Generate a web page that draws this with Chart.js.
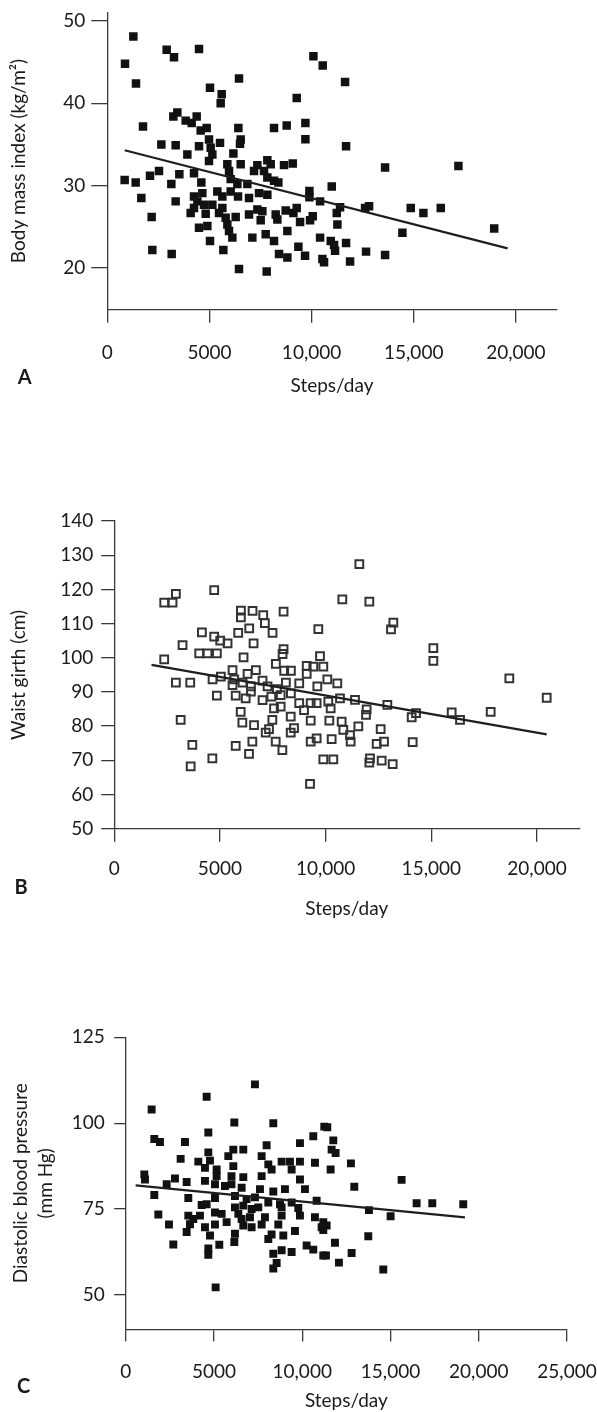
<!DOCTYPE html>
<html>
<head>
<meta charset="utf-8">
<script src="https://cdn.jsdelivr.net/npm/chart.js@4.4.1/dist/chart.umd.min.js"></script>
<style>
html,body{margin:0;padding:0;background:#fff;}
body{width:597px;height:1412px;position:relative;overflow:hidden;}
canvas{position:absolute;left:0;}
</style>
</head>
<body>
<canvas id="cA" width="597" height="400" style="top:0px"></canvas>
<canvas id="cB" width="597" height="480" style="top:440px"></canvas>
<canvas id="cC" width="597" height="462" style="top:950px"></canvas>
<script>
// ---------- Panel A: Body mass index vs steps/day ----------
const stepsA = [1275,867,1405,2907,3266,4490,6448,5028,5600,5551,1748,3429,3233,3837,4376,4131,4571,4865,6416,8162,8782,2646,3347,3919,4490,4979,5518,5061,5143,4979,6530,6497,6171,5877,6530,5959,7346,7835,7999,7183,8651,7672,8162,8374,7835,6040,6367,6856,2531,2091,850,1389,3527,4245,3135,4604,1666,3347,4245,4653,4408,4735,4245,5387,5632,6040,6399,6938,7427,7835,5143,5632,4082,4816,5469,5795,5877,5959,6285,6938,7346,7591,8243,8733,7509,8325,2172,4490,4898,5028,6122,7101,7754,8162,8815,2205,3152,5681,8407,8815,6448,7803,
  10089,10546,11640,9273,9698,9698,11689,9078,13598,17189,10987,9894,9894,10416,11395,11232,9273,9110,9437,9926,10057,11264,12619,12815,14855,15475,16324,14447,18940,10416,9355,10938,11101,11689,11150,9681,10530,10611,11885,12668,13598];
const bmiA = [48.1,44.8,42.4,46.5,45.6,46.6,43.0,41.9,41.1,40.0,37.2,38.9,38.4,37.9,38.4,37.6,36.7,37.0,37.0,37.0,37.3,35.0,34.9,33.8,34.8,35.6,35.2,34.6,33.8,33.0,35.6,35.1,33.9,32.6,32.6,31.8,32.5,33.1,32.6,31.8,32.5,31.8,30.6,30.4,31.0,30.8,30.2,30.2,31.8,31.2,30.7,30.4,31.4,31.5,30.2,30.4,28.5,28.1,28.7,29.1,28.1,27.7,27.3,29.3,28.7,29.3,28.7,28.5,29.1,28.9,27.7,27.3,26.7,26.6,26.7,26.1,25.3,24.5,26.2,26.5,27.1,26.9,26.5,27.0,25.8,25.9,26.2,24.9,25.1,23.3,23.7,23.7,24.1,23.3,24.5,22.2,21.7,22.2,21.7,21.3,19.9,19.6,
  45.7,44.6,42.6,40.65,37.6,35.65,34.8,32.7,32.2,32.4,29.9,29.35,28.6,28.1,27.4,26.7,27.3,26.7,25.6,25.8,26.3,25.3,27.3,27.5,27.3,26.7,27.3,24.3,24.8,23.7,22.6,23.3,22.8,23.05,22.1,21.5,21.1,20.7,20.8,22.0,21.6];
const trendStepsA = [850, 19600];
const trendBmiA = [34.3, 22.4];
const xTicksA = [0, 5000, 10000, 15000, 20000];
const yTicksA = [20, 30, 40, 50];

// ---------- Panel B: Waist girth vs steps/day ----------
const stepsB = [2917,2366,2760,4731,5993,5993,6545,7050,7128,8011,6387,7490,4148,4731,5015,5362,5866,6592,3233,4021,4416,4857,6119,2366,8011,7964,7648,8043,8358,9106,5598,6702,6308,5046,4652,2917,3596,5677,5598,6071,6466,7017,7254,8121,8752,9106,7696,8358,4857,5747,6220,6466,7017,7433,7875,7560,7875,8752,8980,9295,5983,6062,6614,7481,7323,7166,8349,8506,8349,9295,7639,7954,9295,6535,6377,5747,3144,3696,4643,3617,9263,
  11595,10791,12068,9655,13204,13093,15096,15096,18691,20458,9734,9419,9892,10081,10554,9608,9576,10128,10239,10680,11390,11942,11910,12920,14071,14276,15963,16358,17808,10176,10759,11548,10838,11154,11185,10286,9576,12604,12415,12762,14118,9892,10365,12068,12652,13172,12100];
const waistB = [118.7,116.1,116.1,119.8,113.8,111.8,113.7,112.5,110.1,113.5,108.6,107.3,107.4,106.2,105.0,104.2,107.3,104.2,103.7,101.3,101.3,101.3,100.1,99.5,102.5,101.1,98.2,96.2,96.2,97.6,96.4,96.4,95.3,94.5,93.7,92.7,92.7,93.7,92.0,92.7,91.6,93.3,91.6,92.7,92.5,95.3,90.8,89.6,88.9,88.9,88.1,90.1,87.6,88.6,89.1,85.2,85.7,86.7,84.7,86.7,84.2,81.0,80.3,81.8,79.1,78.1,82.8,79.4,78.1,81.6,75.5,73.0,75.5,75.5,71.9,74.2,81.8,74.5,70.6,68.2,63.1,
  127.4,117.1,116.4,108.4,110.3,108.3,102.8,99.1,94.0,88.3,100.5,97.4,97.4,93.7,92.5,91.6,86.7,87.2,85.2,88.1,87.7,84.9,83.3,86.2,82.6,83.8,84.0,81.8,84.2,81.6,81.3,79.9,78.9,77.4,75.5,76.2,76.4,79.1,74.8,75.5,75.3,70.3,70.3,69.3,69.9,68.9,70.6];
const trendStepsB = [1766, 20458];
const trendWaistB = [97.9, 77.6];
const xTicksB = [0, 5000, 10000, 15000, 20000];
const yTicksB = [50, 60, 70, 80, 90, 100, 110, 120, 130, 140];

// ---------- Panel C: Diastolic blood pressure vs steps/day ----------
const stepsC = [7323,4586,1470,6153,8362,4680,1621,1942,3358,7984,9872,10627,11250,4680,6096,6662,3113,4114,4775,5813,7701,8079,8834,9306,9872,10722,4491,5152,6096,8267,9400,1055,1093,2792,5152,5993,6662,7701,9872,2320,3453,4491,5058,5624,5993,6568,7607,8362,9022,10155,1621,3547,5058,6190,6851,7323,8079,8740,9400,10816,4303,4586,6190,6662,7134,7512,8834,9778,1848,3547,3830,4208,5058,5435,6379,6568,7040,7890,8834,9872,10722,3642,4491,5058,5718,6662,7134,7701,8645,11099,2452,3453,4775,6190,8267,8928,9589,2698,5303,6153,8079,4680,4680,8362,8834,9400,10250,10627,11193,8551,8362,5095,
  11420,11760,11666,11892,12761,11609,12950,15630,16480,17368,19123,13780,15008,11194,11383,11194,13743,11855,12799,11345,12081,14592];
const dbpC = [111.3,107.7,104.0,100.2,100.0,97.3,95.4,94.5,94.5,93.6,94.2,96.2,99.0,91.5,92.3,92.3,89.6,88.8,89.1,90.4,90.4,88.0,88.8,88.8,88.8,88.5,87.0,86.5,87.5,86.5,86.5,85.1,83.6,83.9,84.6,84.6,84.3,84.6,83.6,82.2,82.9,83.2,82.2,81.7,82.2,81.2,80.8,80.1,80.8,80.8,79.1,78.2,78.2,78.8,77.9,78.4,76.9,76.4,76.9,77.4,76.2,76.4,75.5,76.0,75.0,75.5,75.5,75.3,73.4,73.1,72.1,73.1,74.0,73.6,73.6,72.1,72.6,72.6,73.1,73.1,72.6,70.6,69.7,70.5,71.2,70.2,69.7,70.5,70.5,69.7,70.5,68.3,67.3,67.8,67.6,67.3,68.6,64.7,64.6,65.4,66.3,63.5,61.7,62.0,63.0,62.5,64.4,63.2,61.5,59.3,57.7,52.2,
  98.8,95.0,92.3,91.3,88.3,86.5,81.5,83.5,76.7,76.7,76.4,74.7,72.9,71.2,70.2,68.9,67.1,65.2,62.2,61.5,59.4,57.4];
const trendStepsC = [564, 19218];
const trendDbpC = [81.9, 72.6];
const xTicksC = [0, 5000, 10000, 15000, 20000, 25000];
const yTicksC = [50, 75, 100, 125];

// ---------- rendering ----------
const AX = '#3a3a3a';
const TXT = '#1a1a1a';
const FS = 19;
Chart.defaults.font.family = "Lato, 'Open Sans', 'DejaVu Sans', sans-serif";
Chart.defaults.font.size = FS;
Chart.defaults.color = TXT;

function fmt(v) { return v >= 10000 ? v.toLocaleString('en-US') : String(v); }
function pairs(xs, ys) { return xs.map((x, i) => ({ x: x, y: ys[i] })); }

const letterPlugin = {
  id: 'panelLetter',
  afterDraw(chart, args, opts) {
    const ctx = chart.ctx;
    ctx.save();
    ctx.font = "bold 20px Lato, 'Open Sans', sans-serif";
    ctx.fillStyle = TXT;
    ctx.textAlign = 'center';
    ctx.textBaseline = 'middle';
    ctx.fillText(opts.text, opts.x, opts.y);
    ctx.restore();
  }
};

function build(id, g) {
  return new Chart(document.getElementById(id), {
    type: 'scatter',
    data: {
      datasets: [
        { data: pairs(g.xs, g.ys), pointStyle: 'rect', pointRadius: g.r, pointHoverRadius: g.r,
          backgroundColor: g.fill, borderColor: g.stroke, borderWidth: g.bw, order: 2 },
        { type: 'line', data: pairs(g.lx, g.ly), showLine: true, borderColor: '#1e1e1e',
          borderWidth: 2.2, pointRadius: 0, fill: false, order: 1 }
      ]
    },
    options: {
      responsive: false, animation: false, events: [],
      layout: { padding: { top: g.top, right: g.right, bottom: 0, left: 0 } },
      plugins: { legend: { display: false }, tooltip: { enabled: false }, panelLetter: g.letter },
      scales: {
        x: {
          type: 'linear', min: 0, max: g.xmax,
          afterBuildTicks: s => { s.ticks = g.xticks.map(v => ({ value: v })); },
          afterFit: s => { s.height = g.xh; s.paddingLeft = 0; s.paddingRight = 0; },
          grid: { display: true, drawOnChartArea: false, drawTicks: true, tickLength: g.xtl,
                  color: AX, tickColor: AX, lineWidth: 1.3 },
          border: { display: true, color: AX, width: 1.3 },
          ticks: { padding: g.xpad, color: TXT, font: { size: FS }, maxRotation: 0, autoSkip: false,
                   callback: v => fmt(v) },
          title: { display: true, text: 'Steps/day', color: TXT, font: { size: FS },
                   padding: { top: 0, bottom: g.xtpb } }
        },
        y: {
          type: 'linear', min: g.ymin, max: g.ymax,
          afterBuildTicks: s => { s.ticks = g.yticks.map(v => ({ value: v })); },
          afterFit: s => { s.width = g.yw; s.paddingTop = 0; s.paddingBottom = 0; },
          grid: { display: true, drawOnChartArea: false, drawTicks: true, tickLength: g.ytl,
                  color: AX, tickColor: AX, lineWidth: 1.3 },
          border: { display: true, color: AX, width: 1.3 },
          ticks: { padding: g.ypad, color: TXT, font: { size: FS }, autoSkip: false,
                   callback: v => String(v) },
          title: { display: true, text: g.ytitle, color: TXT, font: { size: FS, lineHeight: g.ylh },
                   padding: { top: g.ytpt, bottom: 0 } }
        }
      }
    },
    plugins: [letterPlugin]
  });
}

function drawAll() {
  build('cA', {
    xs: stepsA, ys: bmiA, lx: trendStepsA, ly: trendBmiA,
    r: 6, fill: '#111', stroke: '#111', bw: 0,
    top: 12.7, right: 40.3,
    xmax: 22000, xticks: xTicksA, xh: 90.7, xtl: 13.4, xpad: 19.2, xtpb: 2.6,
    ymin: 15, ymax: 51, yticks: yTicksA, yw: 107.3, ytl: 16, ypad: 6,
    ytitle: 'Body mass index (kg/m²)', ylh: 1.2, ytpt: 7.6,
    letter: { text: 'A', x: 24.7, y: 377.5 }
  });
  build('cB', {
    xs: stepsB, ys: waistB, lx: trendStepsB, ly: trendWaistB,
    r: 5.5, fill: 'rgba(255,255,255,0)', stroke: '#333', bw: 2,
    top: 81, right: 17.7,
    xmax: 22000, xticks: xTicksB, xh: 91.3, xtl: 13, xpad: 15.9, xtpb: 0,
    ymin: 50, ymax: 140, yticks: yTicksB, yw: 114.2, ytl: 13, ypad: 8,
    ytitle: 'Waist girth (cm)', ylh: 1.2, ytpt: 7.6,
    letter: { text: 'B', x: 21, y: 448 }
  });
  build('cC', {
    xs: stepsC, ys: dbpC, lx: trendStepsC, ly: trendDbpC,
    r: 5.6, fill: '#111', stroke: '#111', bw: 0,
    top: 87.3, right: 30,
    xmax: 25000, xticks: xTicksC, xh: 82.7, xtl: 12.3, xpad: 18.7, xtpb: 0,
    ymin: 40, ymax: 125, yticks: yTicksC, yw: 125.7, ytl: 11.5, ypad: 9.5,
    ytitle: ['Diastolic blood pressure', '(mm Hg)'], ylh: 1.3, ytpt: 8.65,
    letter: { text: 'C', x: 23.6, y: 436.7 }
  });
}

if (document.fonts && document.fonts.load) {
  Promise.all([document.fonts.load('19px Lato'), document.fonts.load('bold 20px Lato')])
    .then(drawAll, drawAll);
} else {
  drawAll();
}
</script>
</body>
</html>
